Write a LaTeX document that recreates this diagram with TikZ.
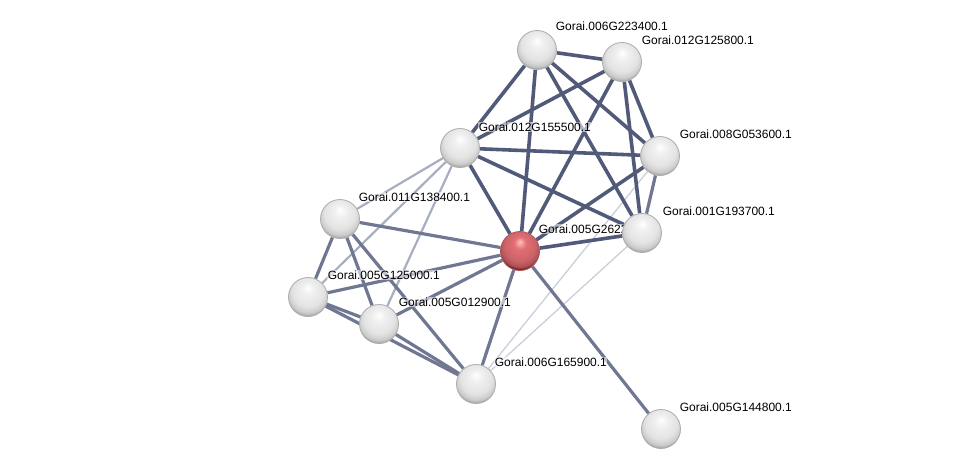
\documentclass[tikz,border=0pt]{standalone}
\usepackage{fontspec}
\setmainfont{Liberation Sans}
\definecolor{edark}{RGB}{82,90,122}
\definecolor{emid}{RGB}{112,119,146}
\definecolor{elight}{RGB}{168,173,194}
\definecolor{efaint}{RGB}{203,206,219}
\definecolor{redball}{RGB}{226,110,116}
\pgfdeclarelayer{edges}
\pgfdeclarelayer{labels}
\pgfsetlayers{edges,labels,main}
\pgfdeclareradialshading{graysphere}{\pgfpoint{0bp}{12bp}}{%
  color(0bp)=(white); color(8bp)=(gray!12); color(20bp)=(gray!22); color(26bp)=(gray!40); color(30bp)=(gray!75); color(50bp)=(gray!75)}
\pgfdeclareradialshading{redsphere}{\pgfpoint{0bp}{12bp}}{%
  color(0bp)=(red!25!white); color(8bp)=(redball); color(20bp)=(redball!90!black); color(26bp)=(redball!75!black); color(30bp)=(red!40!black); color(50bp)=(red!40!black)}
\begin{document}
\begin{tikzpicture}[x=1pt,y=-1pt,
  prot/.style={circle, minimum size=39pt, inner sep=0pt, shading=graysphere, draw=gray!65, line width=0.8pt},
  redprot/.style={prot, shading=redsphere, draw=red!35!gray},
  lab/.style={anchor=base west, inner sep=0.6pt, fill=white, fill opacity=0.55, text opacity=1, font=\fontsize{12}{14}\selectfont},
  ethick/.style={draw=edark, line width=3.6pt},
  emed/.style={draw=emid, line width=3.2pt},
  elite/.style={draw=elight, line width=2.2pt},
  efnt/.style={draw=efaint, line width=1.3pt}]
\useasboundingbox (0,0) rectangle (976,474);
% proteins
\node[prot] (A) at (537,50) {};
\node[prot] (B) at (622,62) {};
\node[prot] (C) at (460,148) {};
\node[prot] (D) at (660,156) {};
\node[prot] (E) at (340,219) {};
\node[redprot] (R) at (520,251) {};
\node[prot] (F) at (642,233) {};
\node[prot] (G) at (308,297) {};
\node[prot] (H) at (379,324) {};
\node[prot] (I) at (476,384) {};
\node[prot] (J) at (661,429) {};
% labels
\begin{pgfonlayer}{labels}
\node[lab] (lA) at (555,30) {Gorai.006G223400.1};
\node[lab] (lB) at (641,44) {Gorai.012G125800.1};
\node[lab] (lC) at (478,131) {Gorai.012G155500.1};
\node[lab] (lD) at (679,138) {Gorai.008G053600.1};
\node[lab] (lE) at (358,201) {Gorai.011G138400.1};
\node[lab] (lR) at (538,233) {Gorai.005G2622};
\node[lab] (lF) at (662,215) {Gorai.001G193700.1};
\node[lab] (lG) at (327,279) {Gorai.005G125000.1};
\node[lab] (lH) at (398,306) {Gorai.005G012900.1};
\node[lab] (lI) at (494,366) {Gorai.006G165900.1};
\node[lab] (lJ) at (679,411) {Gorai.005G144800.1};
\end{pgfonlayer}
% interactions
\begin{pgfonlayer}{edges}
\draw[efnt] (D) -- (I);
\draw[efnt] (F) -- (I);
\draw[elite] (C) -- (E);
\draw[elite] (C) -- (G);
\draw[elite] (C) -- (H);
\draw[emed] (E) -- (R);
\draw[emed] (G) -- (R);
\draw[emed] (H) -- (R);
\draw[emed] (R) -- (I);
\draw[emed] (R) -- (J);
\draw[emed] (E) -- (G);
\draw[emed] (E) -- (H);
\draw[emed] (E) -- (I);
\draw[emed] (G) -- (H);
\draw[emed] (G) -- (I);
\draw[emed] (H) -- (I);
\draw[emed] (D) -- (F);
\draw[ethick] (A) -- (B);
\draw[ethick] (A) -- (C);
\draw[ethick] (A) -- (R);
\draw[ethick] (A) -- (F);
\draw[ethick] (A) -- (D);
\draw[ethick] (B) -- (C);
\draw[ethick] (B) -- (R);
\draw[ethick] (B) -- (D);
\draw[ethick] (B) -- (F);
\draw[ethick] (C) -- (D);
\draw[ethick] (C) -- (F);
\draw[ethick] (C) -- (R);
\draw[ethick] (D) -- (R);
\draw[ethick] (F) -- (R);
\end{pgfonlayer}
\end{tikzpicture}
\end{document}
